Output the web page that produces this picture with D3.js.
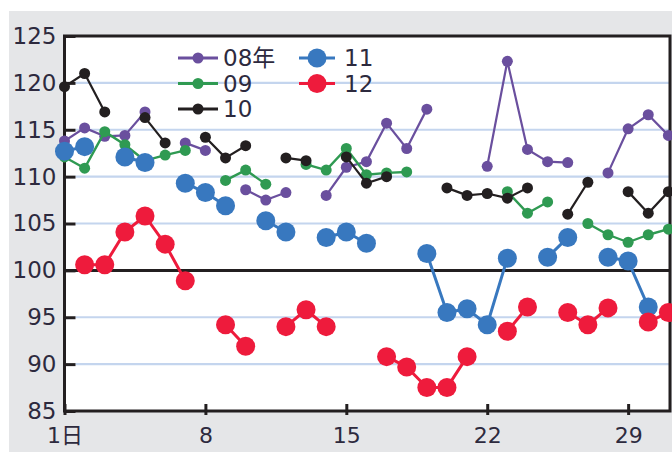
<!DOCTYPE html>
<html>
<head>
<meta charset="utf-8">
<script src="https://cdn.jsdelivr.net/npm/d3@7"></script>
<style>
  html, body { margin: 0; padding: 0; background: #fff; }
  svg { display: block; }
</style>
</head>
<body>
<svg id="chart" width="672" height="452"></svg>
<script>
// ---- data ----
const days = d3.range(1, 32);
const s08 = [113.8, 115.2, 114.3, 114.4, 116.9, null, 113.6, 112.8, null, 108.6,
             107.5, 108.3, null, 108.0, 111.0, 111.6, 115.7, 113.0, 117.2, null,
             null, 111.1, 122.3, 112.9, 111.6, 111.5, null, 110.4, 115.1, 116.6, 114.4];
const s09 = [112.1, 110.9, 114.8, 113.4, 111.7, 112.3, 112.8, null, 109.6, 110.7,
             109.2, null, 111.3, 110.7, 113.0, 110.2, 110.4, 110.5, null, null,
             null, null, 108.4, 106.1, 107.3, null, 105.0, 103.8, 103.0, 103.8, 104.4];
const s10 = [119.6, 121.0, 116.9, null, 116.3, 113.6, null, 114.2, 112.0, 113.3,
             null, 112.0, 111.7, null, 112.1, 109.3, 110.0, null, null, 108.8,
             108.0, 108.2, 107.7, 108.8, null, 106.0, 109.4, null, 108.4, 106.1, 108.4];
const s11 = [112.7, 113.2, null, 112.1, 111.5, null, 109.3, 108.3, 106.9, null,
             105.3, 104.1, null, 103.5, 104.1, 102.9, null, null, 101.8, 95.5,
             95.9, 94.2, 101.3, null, 101.4, 103.5, null, 101.4, 101.0, 96.1, null];
const s12 = [null, 100.6, 100.6, 104.1, 105.8, 102.8, 98.9, null, 94.2, 91.9,
             null, 94.0, 95.8, 94.0, null, null, 90.8, 89.7, 87.5, 87.5,
             90.8, null, 93.5, 96.1, null, 95.5, 94.2, 96.0, null, 94.5, 95.5];
const seriesNames = ["08年", "09", "10", "11", "12"];
const yTicks = [85, 90, 95, 100, 105, 110, 115, 120, 125];
const xTicks = [1, 8, 15, 22, 29];
const xTickLabels = ["1日", "8", "15", "22", "29"];

// ---- styles ----
const colors = ["#6a4f9e", "#2f9a52", "#231f20", "#3878bf", "#ee1b3c"];
const lineW = [2.2, 2.4, 2.2, 3, 3];
const markR = [5.5, 5.5, 5.5, 9.5, 9.5];
const allSeries = [s08, s09, s10, s11, s12];
const textColor = "#2d2a3e";
const font = "'DejaVu Sans', 'Noto Sans CJK JP', sans-serif";

const svg = d3.select("#chart");
const pLeft = 64.5, pRight = 670, pTop = 36, pBottom = 411;

const x = d3.scaleLinear().domain([1, 31.08]).range([pLeft, pRight]);
const y = d3.scaleLinear().domain([85, 125]).range([pBottom, pTop]);

// backgrounds
svg.append("rect").attr("x", 0).attr("y", 0).attr("width", 672).attr("height", 452).attr("fill", "#fff");
svg.append("rect").attr("x", 9).attr("y", 11).attr("width", 663).attr("height", 441).attr("fill", "#e5e6e8");
svg.append("rect").attr("x", pLeft).attr("y", pTop).attr("width", pRight - pLeft).attr("height", pBottom - pTop).attr("fill", "#fff");

// gridlines
svg.append("g").selectAll("line")
  .data(yTicks.filter(v => v !== 85 && v !== 125 && v !== 100))
  .join("line")
  .attr("x1", pLeft + 11).attr("x2", pRight - 1)
  .attr("y1", d => y(d)).attr("y2", d => y(d))
  .attr("stroke", "#c4d5ee").attr("stroke-width", 2.2);

// 100 line
svg.append("line")
  .attr("x1", pLeft).attr("x2", pRight)
  .attr("y1", y(100)).attr("y2", y(100))
  .attr("stroke", "#231f20").attr("stroke-width", 3);

// frame
svg.append("rect").attr("x", pLeft).attr("y", pTop).attr("width", pRight - pLeft).attr("height", pBottom - pTop)
  .attr("fill", "none").attr("stroke", "#231f20").attr("stroke-width", 3);

// y axis
const yAxis = svg.append("g").attr("transform", `translate(${pLeft},0)`)
  .call(d3.axisLeft(y).tickValues(yTicks).tickSize(-11).tickPadding(8).tickFormat(d3.format("d")));
yAxis.select(".domain").remove();
yAxis.selectAll(".tick line").attr("stroke", "#231f20").attr("stroke-width", 3);
yAxis.selectAll(".tick text").attr("fill", textColor).style("font-family", font).style("font-size", "23px");

// x axis
const xAxis = svg.append("g").attr("transform", `translate(0,${pBottom})`)
  .call(d3.axisBottom(x).tickValues(xTicks).tickSize(4).tickPadding(12)
        .tickFormat((d, i) => xTickLabels[i]));
xAxis.select(".domain").remove();
xAxis.selectAll(".tick line").attr("y1", -7).attr("stroke", "#231f20").attr("stroke-width", 3);
xAxis.selectAll(".tick text").attr("fill", textColor).style("font-family", font).style("font-size", "22px");

// series
allSeries.forEach((vals, si) => {
  const pts = days.map((d, i) => ({ d, v: vals[i] }));
  const line = d3.line().defined(p => p.v != null).x(p => x(p.d)).y(p => y(p.v));
  const g = svg.append("g");
  g.append("path").datum(pts).attr("d", line)
    .attr("fill", "none").attr("stroke", colors[si]).attr("stroke-width", lineW[si])
    .attr("stroke-linejoin", "round");
  g.selectAll("circle").data(pts.filter(p => p.v != null)).join("circle")
    .attr("cx", p => x(p.d)).attr("cy", p => y(p.v)).attr("r", markR[si])
    .attr("fill", colors[si]);
});

// legend
const legendItems = seriesNames.map((name, i) => ({
  name, i,
  col: i < 3 ? 0 : 1,
  row: i < 3 ? i : i - 3
}));
const colX = [{ x1: 178, x2: 218, tx: 223 }, { x1: 299, x2: 335, tx: 344 }];
const rowY = [58, 83.5, 109];
const lg = svg.append("g");
legendItems.forEach(it => {
  const c = colX[it.col], yy = rowY[it.row];
  lg.append("line").attr("x1", c.x1).attr("x2", c.x2).attr("y1", yy).attr("y2", yy)
    .attr("stroke", colors[it.i]).attr("stroke-width", 3);
  lg.append("circle").attr("cx", (c.x1 + c.x2) / 2).attr("cy", yy).attr("r", markR[it.i])
    .attr("fill", colors[it.i]);
  lg.append("text").attr("x", c.tx).attr("y", yy).attr("dy", "0.36em")
    .attr("fill", textColor).style("font-family", font).style("font-size", "23px")
    .text(it.name);
});
</script>
</body>
</html>
